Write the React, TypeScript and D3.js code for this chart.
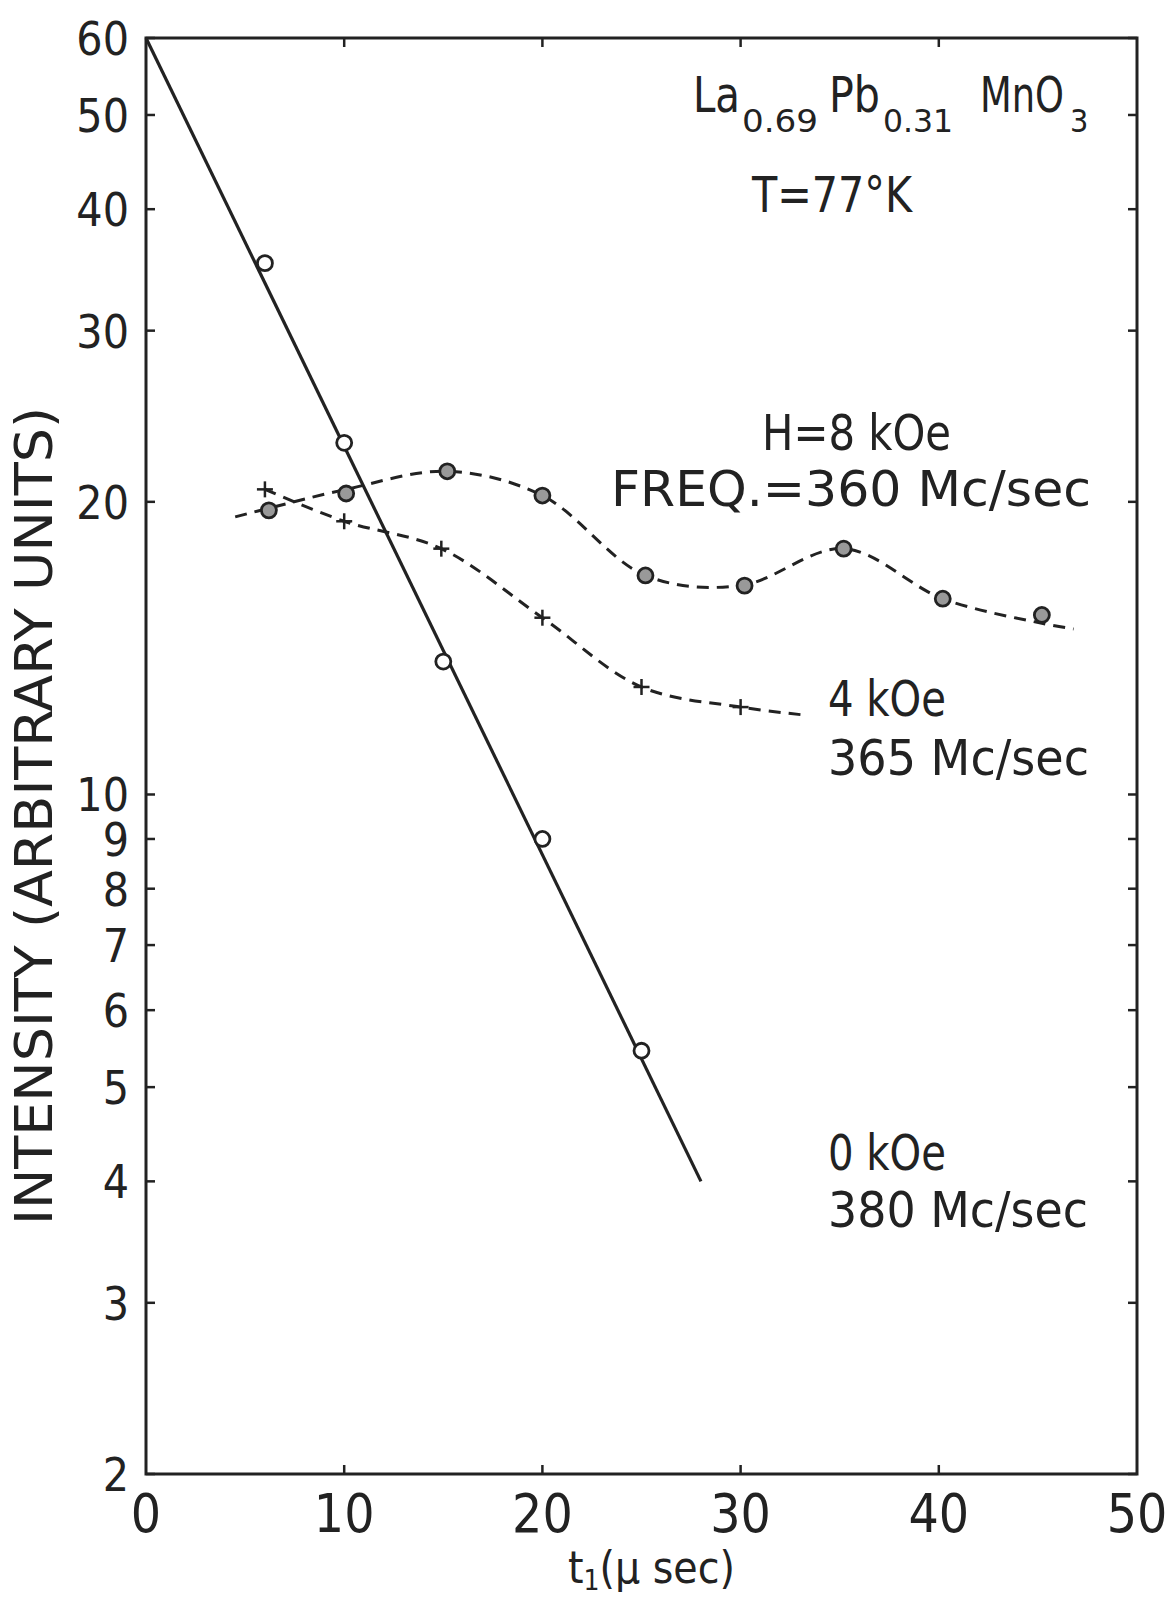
import React from "react";
import * as d3 from "d3";

// ---- data ----
const yTicks = [60, 50, 40, 30, 20, 10, 9, 8, 7, 6, 5, 4, 3, 2];
const xTicks = [0, 10, 20, 30, 40, 50];

// 0 kOe, 380 Mc/sec (open circles, straight line)
const zeroT = [6, 10, 15, 20, 25];
const zeroI = [35.2, 23.0, 13.7, 9.0, 5.45];
const zeroLineT = [0, 28];
const zeroLineI = [60, 4.0];

// 8 kOe, 360 Mc/sec (dotted circles)
const h8T = [6.2, 10.1, 15.2, 20.0, 25.2, 30.2, 35.2, 40.2, 45.2];
const h8I = [19.6, 20.4, 21.5, 20.3, 16.8, 16.4, 17.9, 15.9, 15.3];
const h8CurveT = [4.5, 6.2, 10.1, 15.2, 20.0, 25.2, 30.0, 35.2, 40.2, 45.2, 46.8];
const h8CurveI = [19.3, 19.7, 20.6, 21.5, 20.3, 16.8, 16.4, 17.9, 15.9, 15.0, 14.8];

// 4 kOe, 365 Mc/sec (crosses)
const h4T = [6.0, 10.0, 14.9, 20.0, 25.0, 30.0];
const h4I = [20.6, 19.1, 17.9, 15.2, 12.9, 12.3];
const h4CurveT = [6.0, 10.0, 14.9, 20.0, 25.0, 30.0, 33.4];
const h4CurveI = [20.6, 19.1, 17.9, 15.2, 12.9, 12.3, 12.06];

const FONT = "'DejaVu Sans Condensed', 'DejaVu Sans', sans-serif";
const INK = "#222";

export default function App() {
  const W = 1170, H = 1604;
  const left = 146, right = 1137, top = 38, bottom = 1474;
  const x = d3.scaleLinear().domain([0, 50]).range([left, right]);
  const y = d3.scaleLog().domain([2, 60]).range([bottom, top]);

  const zip = (a: number[], b: number[]) => a.map((v, i) => [v, b[i]] as [number, number]);
  const line = d3.line<[number, number]>().x(d => x(d[0])).y(d => y(d[1]));
  const smooth = d3.line<[number, number]>().x(d => x(d[0])).y(d => y(d[1])).curve(d3.curveCatmullRom.alpha(0.5));

  const tickLen = 9;
  const sw = 3;

  return (
    <svg width={W} height={H} style={{ position: "absolute", left: 0, top: 0, background: "#fff" }}
      fontFamily={FONT} fontStretch="condensed">
      <rect x={0} y={0} width={W} height={H} fill="#fff" />
      {/* frame */}
      <rect x={left} y={top} width={right - left} height={bottom - top} fill="none" stroke={INK} strokeWidth={sw} />
      {/* y ticks left & right */}
      {yTicks.map(t => (
        <g key={"yt" + t}>
          <line x1={left} x2={left + tickLen} y1={y(t)} y2={y(t)} stroke={INK} strokeWidth={2.5} />
          <line x1={right} x2={right - tickLen} y1={y(t)} y2={y(t)} stroke={INK} strokeWidth={2.5} />
          <text x={129} y={y(t)} dy={17} textAnchor="end" fontSize={46} fill={INK}>{t}</text>
        </g>
      ))}
      {/* x ticks top & bottom */}
      {xTicks.map(t => (
        <g key={"xt" + t}>
          {t > 0 && t < 50 && (
            <>
              <line x1={x(t)} x2={x(t)} y1={bottom} y2={bottom - tickLen} stroke={INK} strokeWidth={2.5} />
              <line x1={x(t)} x2={x(t)} y1={top} y2={top + tickLen} stroke={INK} strokeWidth={2.5} />
            </>
          )}
          <text x={x(t)} y={1532} textAnchor="middle" fontSize={53} fill={INK}>{t}</text>
        </g>
      ))}
      {/* axis titles */}
      <text transform="translate(52,816) rotate(-90)" textAnchor="middle" fontSize={52} fill={INK}
        textLength={818} lengthAdjust="spacingAndGlyphs">INTENSITY (ARBITRARY UNITS)</text>
      <text x={568} y={1583} fontSize={44} fill={INK}>
        t<tspan fontSize={28} dy={7}>1</tspan><tspan dy={-7}>(μ sec)</tspan>
      </text>

      {/* 0 kOe line */}
      <path d={line(zip(zeroLineT, zeroLineI)) || ""} fill="none" stroke={INK} strokeWidth={3.2} />
      {zip(zeroT, zeroI).map((d, i) => (
        <circle key={"z" + i} cx={x(d[0])} cy={y(d[1])} r={7.5} fill="#fff" stroke={INK} strokeWidth={2.8} />
      ))}

      {/* 8 kOe curve */}
      <path d={smooth(zip(h8CurveT, h8CurveI)) || ""} fill="none" stroke={INK} strokeWidth={3}
        strokeDasharray="12 8" />
      {zip(h8T, h8I).map((d, i) => (
        <circle key={"h8" + i} cx={x(d[0])} cy={y(d[1])} r={7.5} fill="#999" stroke={INK} strokeWidth={2.8} />
      ))}

      {/* 4 kOe curve */}
      <path d={smooth(zip(h4CurveT, h4CurveI)) || ""} fill="none" stroke={INK} strokeWidth={3}
        strokeDasharray="12 8" />
      {zip(h4T, h4I).map((d, i) => (
        <g key={"h4" + i} transform={`translate(${x(d[0])},${y(d[1])})`}>
          <line x1={-8} x2={8} y1={0} y2={0} stroke={INK} strokeWidth={2.5} />
          <line x1={0} x2={0} y1={-8} y2={8} stroke={INK} strokeWidth={2.5} />
        </g>
      ))}

      {/* annotations */}
      <text x={693} y={112} fontSize={50} fill={INK} textLength={47} lengthAdjust="spacingAndGlyphs">La</text>
      <text x={742} y={132} fontSize={32} fill={INK} textLength={76} lengthAdjust="spacingAndGlyphs">0.69</text>
      <text x={829} y={112} fontSize={50} fill={INK} textLength={51} lengthAdjust="spacingAndGlyphs">Pb</text>
      <text x={883} y={132} fontSize={32} fill={INK} textLength={70} lengthAdjust="spacingAndGlyphs">0.31</text>
      <text x={980} y={112} fontSize={50} fill={INK} textLength={84} lengthAdjust="spacingAndGlyphs">MnO</text>
      <text x={1070} y={132} fontSize={32} fill={INK}>3</text>
      <text x={752} y={212} fontSize={50} fill={INK} textLength={160} lengthAdjust="spacingAndGlyphs">T=77°K</text>
      <text x={762} y={450} fontSize={50} fill={INK} textLength={189} lengthAdjust="spacingAndGlyphs">H=8 kOe</text>
      <text x={611} y={506} fontSize={50} fill={INK} textLength={480} lengthAdjust="spacingAndGlyphs">FREQ.=360 Mc/sec</text>
      <text x={828} y={716} fontSize={50} fill={INK} textLength={118} lengthAdjust="spacingAndGlyphs">4 kOe</text>
      <text x={828} y={775} fontSize={50} fill={INK} textLength={261} lengthAdjust="spacingAndGlyphs">365 Mc/sec</text>
      <text x={828} y={1170} fontSize={50} fill={INK} textLength={118} lengthAdjust="spacingAndGlyphs">0 kOe</text>
      <text x={828} y={1227} fontSize={50} fill={INK} textLength={260} lengthAdjust="spacingAndGlyphs">380 Mc/sec</text>
    </svg>
  );
}
